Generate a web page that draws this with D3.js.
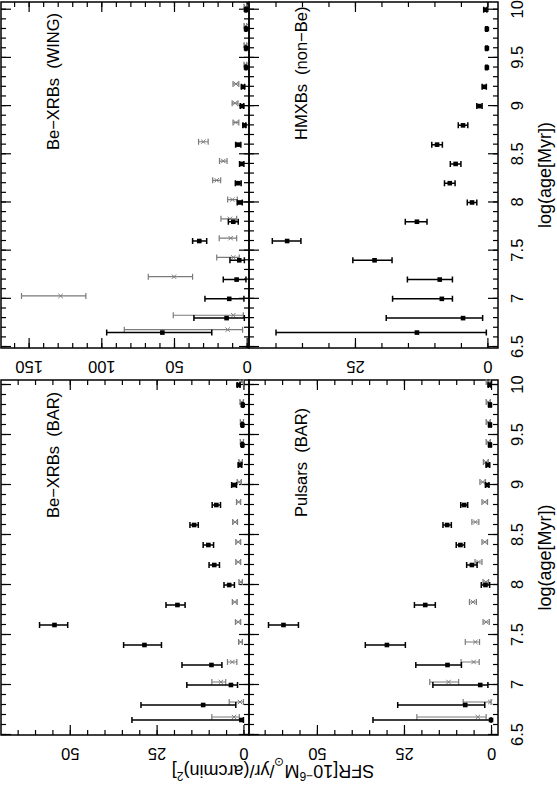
<!DOCTYPE html>
<html>
<head>
<meta charset="UTF-8">
<title>SFR vs age</title>
<script src="https://d3js.org/d3.v7.min.js"></script>
<style>
  body { margin: 0; background: #fff; }
  svg { display: block; font-family: "Liberation Sans", Arial, sans-serif; }
  .frame { fill: none; stroke: #000; stroke-width: 1.5px; }
  .tick line { stroke: #000; stroke-width: 1.2px; }
  .tick text { fill: #000; font-size: 16.5px; }
  .plabel { font-size: 16.5px; white-space: pre; }
  .title { font-size: 18px; }
</style>
</head>
<body>
<svg width="557" height="790"></svg>
<script>
// log(age) bins, shared by every panel
const ageBins = [6.65, 6.8, 7.0, 7.2, 7.4, 7.6, 7.8, 8.0, 8.2, 8.4, 8.6, 8.8, 9.0, 9.2, 9.4, 9.6, 9.8, 10.0];
const ageTicks = [6.5, 7, 7.5, 8, 8.5, 9, 9.5, 10];
const ageTickLabels = ["6.5", "7", "7.5", "8", "8.5", "9", "9.5", "10"];

// Be-XRBs (BAR)
const beBarSfr = [0.6, 11.6, 3.6, 9.2, 28.5, 54.4, 19.0, 4.1, 8.4, 10.1, 14.2, 7.8, 2.7, 1.0, 0.3, 0.3, 0.2, 1.4];
const beBarLo  = [0.0, 2.2, 1.7, 6.2, 23.6, 50.6, 16.8, 2.6, 6.9, 8.6, 13.0, 6.6, 2.0, 0.5, 0.1, 0.1, 0.0, 1.0];
const beBarHi  = [32.1, 29.5, 16.3, 17.7, 34.5, 58.7, 22.3, 5.6, 9.9, 11.6, 15.4, 9.0, 3.4, 1.5, 0.5, 0.5, 0.4, 1.8];
const beBarGreySfr = [2.7, 1.0, 6.5, 3.2, 0.8, 1.5, 2.5, 0.8, 1.5, 1.5, 2.4, 1.4, 1.2, 0.8, 0.4, 0.4, 0.5, 0.5];
const beBarGreyLo  = [1.2, 0.0, 5.1, 1.9, 0.3, 0.8, 1.8, 0.3, 0.8, 0.8, 1.7, 0.8, 0.6, 0.3, 0.0, 0.0, 0.0, 0.0];
const beBarGreyHi  = [9.1, 4.1, 9.1, 4.6, 1.4, 2.3, 3.2, 1.3, 2.2, 2.2, 3.1, 2.0, 1.8, 1.3, 0.9, 0.9, 1.0, 1.0];

// Be-XRBs (WING)
const beWingSfr = [58.0, 13.8, 12.0, 6.9, 5.1, 32.6, 9.2, 4.6, 5.8, 3.4, 5.8, 1.6, 3.2, 2.5, 0.4, 0.4, 0.4, 0.5];
const beWingLo  = [24.0, 1.6, 1.9, 0.5, 1.6, 27.5, 5.8, 3.0, 3.8, 1.9, 4.0, 0.6, 2.0, 1.4, 0.0, 0.0, 0.0, 0.0];
const beWingHi  = [96.3, 36.3, 28.7, 16.1, 11.5, 37.2, 12.6, 6.5, 7.8, 4.9, 7.6, 2.6, 4.4, 3.6, 1.0, 1.0, 1.0, 1.1];
const beWingGreySfr = [13.1, 9.2, 128.0, 50.0, 9.2, 11.0, 11.5, 9.9, 20.6, 16.1, 29.8, 7.4, 8.0, 7.4, 0.5, 0.5, 0.5, 0.5];
const beWingGreyLo  = [2.8, 2.3, 110.6, 37.2, 5.1, 6.9, 6.9, 6.5, 17.9, 13.5, 26.5, 5.4, 6.0, 5.4, 0.0, 0.0, 0.0, 0.0];
const beWingGreyHi  = [84.2, 50.5, 154.9, 67.7, 20.6, 18.9, 17.7, 13.1, 23.4, 18.7, 33.1, 9.4, 10.0, 9.4, 1.8, 1.8, 1.8, 1.8];

// Pulsars (BAR)
const psrSfr = [0.0, 7.4, 3.1, 12.5, 29.9, 59.6, 18.9, 1.6, 5.5, 8.8, 12.6, 7.7, 1.1, 0.9, 0.3, 0.3, 0.3, 0.4];
const psrLo  = [0.0, 1.8, 0.9, 8.5, 24.6, 55.3, 16.0, 0.4, 4.0, 7.6, 11.4, 6.7, 0.6, 0.4, 0.0, 0.0, 0.0, 0.0];
const psrHi  = [33.9, 26.8, 16.7, 21.6, 36.1, 63.9, 22.0, 2.8, 7.0, 10.0, 13.8, 8.7, 1.6, 1.4, 0.6, 0.6, 0.6, 0.8];
const psrGreySfr = [3.8, 0.2, 12.2, 5.0, 4.5, 1.4, 5.2, 1.5, 3.6, 1.8, 4.5, 1.8, 2.4, 1.5, 0.8, 0.8, 0.8, 0.8];
const psrGreyLo  = [1.4, 0.0, 9.3, 3.4, 3.3, 0.5, 4.2, 0.7, 2.6, 1.0, 3.5, 1.0, 1.6, 0.8, 0.2, 0.2, 0.2, 0.2];
const psrGreyHi  = [21.3, 8.0, 17.6, 8.6, 7.4, 2.3, 6.2, 2.3, 4.6, 2.6, 5.5, 2.6, 3.2, 2.2, 1.4, 1.4, 1.4, 1.4];

// HMXBs (non-Be)
const hmxbSfr = [13.3, 4.6, 8.6, 9.0, 21.3, 37.8, 13.3, 2.9, 7.1, 6.0, 9.5, 4.6, 1.5, 0.6, 0.1, 0.1, 0.1, 0.4];
const hmxbLo  = [0.2, 0.9, 6.6, 6.6, 18.0, 35.2, 11.4, 2.0, 6.1, 5.0, 8.5, 3.7, 1.0, 0.2, 0.0, 0.0, 0.0, 0.1];
const hmxbHi  = [39.9, 19.1, 17.9, 15.1, 25.4, 40.6, 15.5, 3.8, 8.1, 7.0, 10.5, 5.5, 2.0, 1.0, 0.3, 0.3, 0.3, 0.7];

// layout in the un-rotated (landscape) frame: 790 wide, 557 high
const cols = [
  { x0: 55,  x1: 410, domain: [6.5, 10.05] },
  { x0: 442, x1: 788, domain: [6.49, 10.08] }
];
const rows = [
  { y0: 1,   y1: 249 },
  { y0: 249, y1: 498 }
];

const panels = [
  { name: "Be\u2212XRBs  (BAR)", col: 0, row: 0, labelX: 272, domain: [-1.6, 69.8], major: [0, 25, 50], minorStep: 5,
    series: [
      { sfr: beBarGreySfr, lo: beBarGreyLo, hi: beBarGreyHi, grey: true },
      { sfr: beBarSfr, lo: beBarLo, hi: beBarHi, grey: false }
    ] },
  { name: "Be\u2212XRBs  (WING)", col: 1, row: 0, labelX: 640, domain: [-1.6, 169], major: [0, 50, 100, 150], minorStep: 10,
    series: [
      { sfr: beWingGreySfr, lo: beWingGreyLo, hi: beWingGreyHi, grey: true },
      { sfr: beWingSfr, lo: beWingLo, hi: beWingHi, grey: false }
    ] },
  { name: "Pulsars  (BAR)", col: 0, row: 1, labelX: 273, domain: [-2, 69.5], major: [0, 25, 50], minorStep: 5,
    series: [
      { sfr: psrGreySfr, lo: psrGreyLo, hi: psrGreyHi, grey: true },
      { sfr: psrSfr, lo: psrLo, hi: psrHi, grey: false }
    ] },
  { name: "HMXBs  (non\u2212Be)", col: 1, row: 1, labelX: 650, domain: [-2, 45], major: [0, 25], minorStep: 5,
    series: [
      { sfr: hmxbSfr, lo: hmxbLo, hi: hmxbHi, grey: false }
    ] }
];

const svg = d3.select("svg");
// the whole figure is drawn landscape and turned a quarter turn
const fig = svg.append("g").attr("transform", "translate(0,790) rotate(-90)");

const ageMinor = d3.range(65, 101).map(d => d / 10);

function styleAxis(sel) {
  sel.select(".domain").remove();
  sel.attr("font-size", null).attr("font-family", null);
}

panels.forEach(p => {
  const c = cols[p.col], r = rows[p.row];
  const x = d3.scaleLinear().domain(c.domain).range([c.x0, c.x1]);
  const y = d3.scaleLinear().domain(p.domain).range([r.y1, r.y0]);
  const g = fig.append("g");
  const sfrMinor = d3.range(0, p.domain[1], p.minorStep);

  // age ticks on bottom and top, pointing inward
  g.append("g").attr("transform", `translate(0,${r.y1})`)
    .call(d3.axisBottom(x).tickValues(ageMinor).tickSize(-5).tickSizeOuter(0).tickFormat(""))
    .call(styleAxis);
  const bottomMajor = g.append("g").attr("transform", `translate(0,${r.y1})`)
    .call(d3.axisBottom(x).tickValues(ageTicks).tickSize(-10).tickSizeOuter(0).tickPadding(13)
      .tickFormat((d, i) => p.row === 1 ? ageTickLabels[i] : ""))
    .call(styleAxis);
  g.append("g").attr("transform", `translate(0,${r.y0})`)
    .call(d3.axisTop(x).tickValues(ageMinor).tickSize(-5).tickSizeOuter(0).tickFormat(""))
    .call(styleAxis);
  g.append("g").attr("transform", `translate(0,${r.y0})`)
    .call(d3.axisTop(x).tickValues(ageTicks).tickSize(-10).tickSizeOuter(0).tickFormat(""))
    .call(styleAxis);

  // SFR ticks on left and right
  g.append("g").attr("transform", `translate(${c.x0},0)`)
    .call(d3.axisLeft(y).tickValues(sfrMinor).tickSize(-5).tickSizeOuter(0).tickFormat(""))
    .call(styleAxis);
  const leftMajor = g.append("g").attr("transform", `translate(${c.x0},0)`)
    .call(d3.axisLeft(y).tickValues(p.major).tickSize(-10).tickSizeOuter(0).tickFormat(d3.format("d")))
    .call(styleAxis);
  leftMajor.selectAll("text")
    .attr("x", null).attr("dy", null)
    .attr("text-anchor", "middle")
    .attr("transform", "translate(-12.5,0) rotate(-90)");
  g.append("g").attr("transform", `translate(${c.x1},0)`)
    .call(d3.axisRight(y).tickValues(sfrMinor).tickSize(-5).tickSizeOuter(0).tickFormat(""))
    .call(styleAxis);
  g.append("g").attr("transform", `translate(${c.x1},0)`)
    .call(d3.axisRight(y).tickValues(p.major).tickSize(-10).tickSizeOuter(0).tickFormat(""))
    .call(styleAxis);

  g.append("rect").attr("class", "frame")
    .attr("x", c.x0).attr("y", r.y0)
    .attr("width", c.x1 - c.x0).attr("height", r.y1 - r.y0);

  g.append("text").attr("class", "plabel")
    .attr("x", p.labelX).attr("y", r.y0 + 58)
    .text(p.name);

  // error bars and markers
  p.series.forEach(s => {
    const pts = ageBins.map((a, i) => ({ age: s.grey ? a + 0.03 : a, v: s.sfr[i], lo: s.lo[i], hi: s.hi[i] }));
    const colour = s.grey ? "#7b7b7b" : "#000";
    g.append("g").selectAll("path")
      .data(pts)
      .enter()
      .append("path")
      .attr("fill", "none")
      .attr("stroke", colour)
      .attr("stroke-width", s.grey ? 1.2 : 1.5)
      .attr("d", d => {
        const xx = x(d.age), ya = y(d.lo), yb = y(d.hi);
        return `M${xx},${ya}V${yb}M${xx - 3},${ya}H${xx + 3}M${xx - 3},${yb}H${xx + 3}`;
      });
    if (s.grey) {
      g.append("g").selectAll("path")
        .data(pts)
        .enter()
        .append("path")
        .attr("fill", "none")
        .attr("stroke", colour)
        .attr("stroke-width", 1)
        .attr("d", d => {
          const xx = x(d.age), yy = y(d.v);
          return `M${xx - 2.2},${yy - 2.2}L${xx + 2.2},${yy + 2.2}M${xx - 2.2},${yy + 2.2}L${xx + 2.2},${yy - 2.2}`;
        });
    } else {
      g.append("g").selectAll("rect")
        .data(pts)
        .enter()
        .append("rect")
        .attr("fill", "#000")
        .attr("x", d => x(d.age) - 2.3)
        .attr("y", d => y(d.v) - 2.3)
        .attr("width", 4.6)
        .attr("height", 4.6);
    }
  });
});

// axis titles
cols.forEach(c => {
  fig.append("text").attr("class", "title")
    .attr("x", (c.x0 + c.x1) / 2).attr("y", 551)
    .attr("text-anchor", "middle")
    .text("log(age[Myr])");
});

const sfrTitle = fig.append("text").attr("class", "title")
  .attr("text-anchor", "middle")
  .attr("transform", "translate(25,273) rotate(-90)");
sfrTitle.append("tspan").text("SFR[10");
sfrTitle.append("tspan").attr("baseline-shift", "super").attr("font-size", "12px").text("\u22126");
sfrTitle.append("tspan").text("M");
sfrTitle.append("tspan").attr("baseline-shift", "sub").attr("font-size", "12px").text("\u2299");
sfrTitle.append("tspan").text("/yr/(arcmin)");
sfrTitle.append("tspan").attr("baseline-shift", "super").attr("font-size", "12px").text("2");
sfrTitle.append("tspan").text("]");
</script>
</body>
</html>
